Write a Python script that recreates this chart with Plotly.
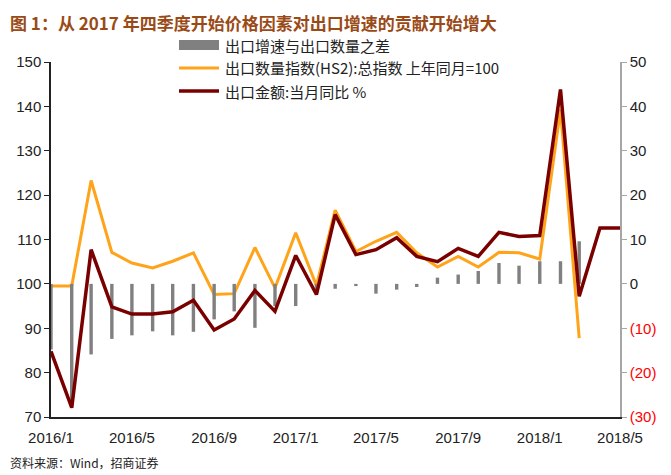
import pandas as pd
import plotly.graph_objs as go

# monthly data, 2016/1 .. 2018/5
months = pd.date_range('2016-01-01', periods=29, freq='MS')

# 出口金额:当月同比 % (right axis)
export_value_yoy = [-15.2, -27.9, 7.7, -5.2, -6.8, -6.8, -6.3, -3.7, -10.4, -7.9,
                    -1.5, -6.2, 6.4, -2.4, 15.6, 6.6, 7.7, 10.4, 6.2, 5.0,
                    8.0, 6.2, 11.6, 10.7, 10.9, 43.8, -2.8, 12.6, 12.6]

# 出口数量指数(HS2) (left axis)
export_volume_idx = [99.5, 99.5, 123.3, 107.1, 104.7, 103.6, 105.1, 107.0, 97.6, 97.8,
                     108.2, 99.1, 111.5, 99.6, 116.6, 107.3, 109.6, 111.6, 107.0, 103.8,
                     106.2, 103.8, 107.1, 107.0, 105.6, 139.3, 87.8]

# 出口增速与出口数量之差 (right axis)
gap = [-14.8, -27.6, -15.9, -12.4, -11.6, -10.7, -11.6, -10.8, -8.0, -6.2,
       -9.9, -5.0, -5.0, -2.0, -1.1, -0.5, -2.2, -1.3, -0.7, 1.4,
       2.1, 2.9, 4.7, 4.1, 5.1, 5.1, 9.6]

x_tick_dates = ['2016-01-01', '2016-05-01', '2016-09-01', '2017-01-01',
                '2017-05-01', '2017-09-01', '2018-01-01', '2018-05-01']
x_tick_labels = ['2016/1', '2016/5', '2016/9', '2017/1', '2017/5', '2017/9', '2018/1', '2018/5']

left_ticks = [70, 80, 90, 100, 110, 120, 130, 140, 150]
right_ticks = [-30, -20, -10, 0, 10, 20, 30, 40, 50]

series_names = ['出口增速与出口数量之差', '出口数量指数(HS2):总指数 上年同月=100', '出口金额:当月同比 %']

GREY = '#808080'
ORANGE = '#FFA31A'
DARKRED = '#7A0000'
CJK = 'Noto Sans CJK SC'
LAT = 'Liberation Sans, Arial'

# the page body adds an 8px margin, so the figure is laid out 8px smaller
OFF = 8
W, H = 671 - OFF, 475 - OFF
PL, PT, PR, PB = 51 - OFF, 62 - OFF, 620 - OFF, 417 - OFF
pw, ph = PR - PL, PB - PT


def right_label(v):
    if v < 0:
        return '<span style="color:#FF0000">(%d)</span>' % abs(v)
    return str(v)


def px_x(x):
    # reference-picture pixel -> paper coordinate
    return (x - OFF - PL) / pw


def px_y(y):
    return 1 - (y - OFF - PT) / ph


fig = go.Figure()
fig.add_trace(go.Bar(x=months[:len(gap)], y=gap, yaxis='y2', name=series_names[0],
                     marker=dict(color=GREY, line=dict(width=0)), width=4.4e8))
fig.add_trace(go.Scatter(x=months[:len(export_volume_idx)], y=export_volume_idx, mode='lines',
                         name=series_names[1], line=dict(color=ORANGE, width=3)))
fig.add_trace(go.Scatter(x=months, y=export_value_yoy, yaxis='y2', mode='lines',
                         name=series_names[2], line=dict(color=DARKRED, width=3.5)))

fig.update_layout(
    width=W, height=H,
    margin=dict(l=PL, r=W - PR, t=PT, b=H - PB, autoexpand=False),
    paper_bgcolor='white', plot_bgcolor='white',
    showlegend=False,
    font=dict(family=LAT, size=15, color='#222222'),
    xaxis=dict(range=['2016-01-01', '2018-05-01'], tickvals=x_tick_dates, ticktext=x_tick_labels,
               showgrid=False, zeroline=False, showline=True, linecolor='#222222', linewidth=1.5,
               ticks='outside', ticklen=6, tickcolor='rgba(0,0,0,0)', tickfont=dict(size=15)),
    yaxis=dict(range=[70, 150], tickvals=left_ticks, showgrid=False, zeroline=False,
               showline=True, linecolor='#222222', linewidth=1.5, ticks='outside', ticklen=5,
               tickcolor='#222222', tickfont=dict(size=15)),
    yaxis2=dict(range=[-30, 50], overlaying='y', side='right', tickvals=right_ticks,
                ticktext=[right_label(v) for v in right_ticks], showgrid=False, zeroline=False,
                showline=True, linecolor='#A6A6A6', linewidth=1.5, ticks='outside', ticklen=5,
                tickcolor='#A6A6A6', tickfont=dict(size=15)),
)

# title and source note (start at the left edge of the figure)
fig.add_annotation(text='<b>图 1：从 2017 年四季度开始价格因素对出口增速的贡献开始增大</b>',
                   xref='paper', yref='paper', x=px_x(OFF), y=px_y(OFF), xanchor='left', yanchor='top',
                   showarrow=False, font=dict(family=CJK, size=17, color='#9A4A16'))
fig.add_annotation(text='资料来源：Wind，招商证券', xref='paper', yref='paper',
                   x=px_x(OFF), y=px_y(462), xanchor='left', yanchor='middle',
                   showarrow=False, font=dict(family=CJK, size=12, color='#222222'))

# hand-drawn legend
rows = [45, 68, 91]
fig.add_shape(type='rect', xref='paper', yref='paper', x0=px_x(179), x1=px_x(219),
              y0=px_y(rows[0] + 5), y1=px_y(rows[0] - 5), fillcolor=GREY, line=dict(width=0))
fig.add_shape(type='line', xref='paper', yref='paper', x0=px_x(179), x1=px_x(219),
              y0=px_y(rows[1]), y1=px_y(rows[1]), line=dict(color=ORANGE, width=3))
fig.add_shape(type='line', xref='paper', yref='paper', x0=px_x(179), x1=px_x(219),
              y0=px_y(rows[2]), y1=px_y(rows[2]), line=dict(color=DARKRED, width=3.5))
for name, ry in zip(series_names, rows):
    fig.add_annotation(text=name, xref='paper', yref='paper', x=px_x(223), y=px_y(ry),
                       xanchor='left', yanchor='middle', showarrow=False,
                       font=dict(family=CJK, size=15, color='#222222'))

fig.write_html('out.html')
